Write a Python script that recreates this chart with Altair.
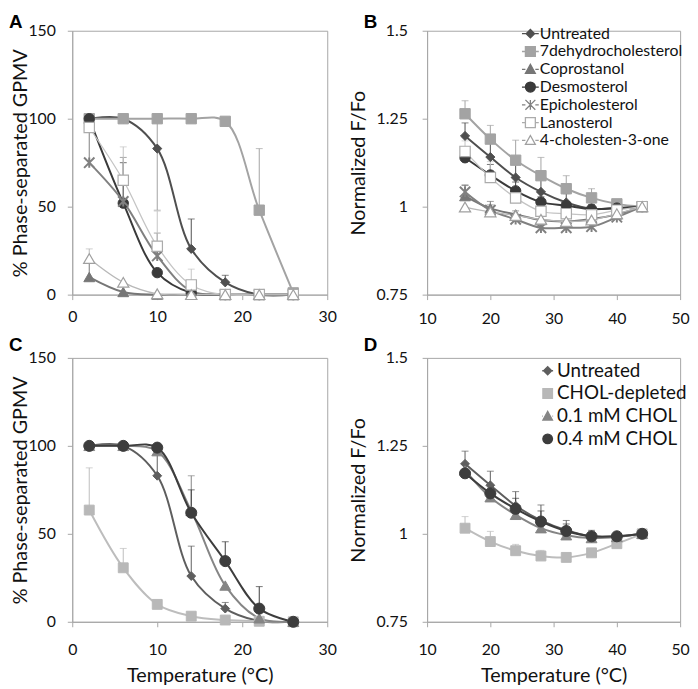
import altair as alt
import pandas as pd

# ---------------- data ----------------
TEMPS_AC = [2, 6, 10, 14, 18, 22, 26]
TEMPS_BD = [16, 20, 24, 28, 32, 36, 40, 44]

A_VALUES = {
    "Untreated": [100, 100, 83, 26, 7, 0, 0],
    "7dehydrocholesterol": [100, 100, 100, 100, 98.5, 48, 1],
    "Coprostanol": [10, 1.5, 0, 0, 0, 0, 0],
    "Desmosterol": [100, 52, 12.5, 1, 0, 0, 0],
    "Epicholesterol": [75, 53, 22, 2, 0, 0, 0],
    "Lanosterol": [95, 65, 27.5, 5.5, 0, 0, 0],
    "4-cholesten-3-one": [20.5, 7, 0.5, 0, 0, 0, 0],
}
A_ERR_PLUS = {
    "Untreated": [0, 0, 0, 17, 4, 0, 0],
    "7dehydrocholesterol": [0, 0, 0, 0, 0, 35, 0],
    "Coprostanol": [8, 0, 0, 0, 0, 0, 0],
    "Desmosterol": [0, 23, 0, 0, 0, 0, 0],
    "Epicholesterol": [20, 25, 13, 0, 0, 0, 0],
    "Lanosterol": [0, 19, 20, 9, 0, 0, 0],
    "4-cholesten-3-one": [5.5, 0, 0, 0, 2, 2, 2],
}
A_ERR_MINUS = {
    "7dehydrocholesterol": [0, 0, 52, 0, 0, 0, 0],
}

B_VALUES = {
    "Untreated": [1.201, 1.141, 1.083, 1.042, 1.012, 0.994, 0.996, 1.0],
    "7dehydrocholesterol": [1.264, 1.192, 1.132, 1.088, 1.051, 1.025, 1.008, 1.0],
    "Coprostanol": [1.03, 0.995, 0.978, 0.962, 0.958, 0.965, 0.978, 1.0],
    "Desmosterol": [1.139, 1.09, 1.045, 1.013, 1.003, 0.993, 0.996, 1.0],
    "Epicholesterol": [1.042, 0.99, 0.964, 0.94, 0.94, 0.943, 0.97, 1.0],
    "Lanosterol": [1.157, 1.083, 1.025, 0.987, 0.98, 0.977, 0.99, 1.0],
    "4-cholesten-3-one": [0.999, 0.985, 0.975, 0.964, 0.958, 0.962, 0.98, 1.0],
}
B_ERR_PLUS = {
    "Untreated": [0.037, 0.04, 0.04, 0.04, 0.025, 0.012, 0, 0],
    "7dehydrocholesterol": [0.037, 0.039, 0.057, 0.052, 0.037, 0.026, 0, 0],
    "Coprostanol": [0.03, 0.02, 0.01, 0, 0, 0, 0, 0],
    "Desmosterol": [0.02, 0.03, 0.025, 0.015, 0.01, 0, 0, 0],
    "Epicholesterol": [0.02, 0.015, 0.01, 0.01, 0, 0, 0, 0],
    "Lanosterol": [0.03, 0.045, 0.02, 0.01, 0, 0, 0, 0],
    "4-cholesten-3-one": [0, 0, 0, 0, 0, 0, 0.005, 0.008],
}

C_VALUES = {
    "Untreated": [100, 100, 83, 26, 7.5, 0.5, 0],
    "CHOL-depleted": [63.5, 30.7, 9.9, 3.2, 1, 0.3, 0],
    "0.1 mM CHOL": [100, 100, 97, 63, 20.6, 2, 0],
    "0.4 mM CHOL": [100, 100, 99, 62, 34.5, 7.5, 0],
}
C_ERR_PLUS = {
    "Untreated": [0, 0, 14, 17, 3.5, 0, 0],
    "CHOL-depleted": [24, 11, 0, 0, 0, 0, 0],
    "0.1 mM CHOL": [0, 0, 0, 20, 0, 0, 0],
    "0.4 mM CHOL": [0, 0, 0, 13, 11, 12.5, 0],
}

D_VALUES = {
    "Untreated": [1.199, 1.138, 1.080, 1.038, 1.010, 0.993, 0.993, 1.0],
    "CHOL-depleted": [1.016, 0.978, 0.952, 0.937, 0.933, 0.946, 0.972, 1.0],
    "0.1 mM CHOL": [1.18, 1.104, 1.054, 1.016, 0.996, 0.988, 0.991, 1.0],
    "0.4 mM CHOL": [1.172, 1.115, 1.071, 1.035, 1.008, 0.993, 0.993, 1.0],
}
D_ERR_PLUS = {
    "Untreated": [0.036, 0.04, 0.04, 0.044, 0.028, 0.017, 0, 0],
    "CHOL-depleted": [0.033, 0.029, 0.018, 0.016, 0, 0, 0, 0],
    "0.1 mM CHOL": [0, 0, 0, 0.03, 0, 0, 0, 0],
    "0.4 mM CHOL": [0, 0, 0.03, 0.03, 0.02, 0.01, 0, 0],
}

PCT_TICKS = [0, 50, 100, 150]
FF_TICKS = [0.75, 1, 1.25, 1.5]
X_AC_TICKS = [0, 10, 20, 30]
X_BD_TICKS = [10, 20, 30, 40, 50]

ASTERISK = "M-1,-1L1,1M-1,1L1,-1M0,-1L0,1"

STYLE_AB = {
    "Untreated": dict(shape="diamond", fill="#4f4f4f", stroke="#4f4f4f", sw=1, size=85, line="#4f4f4f", lw=2, kind="diamond"),
    "7dehydrocholesterol": dict(shape="square", fill="#a3a3a3", stroke="#a3a3a3", sw=1, size=110, line="#a3a3a3", lw=2, kind="square"),
    "Coprostanol": dict(shape="triangle-up", fill="#767676", stroke="#767676", sw=1, size=120, line="#767676", lw=2, kind="triangle"),
    "Desmosterol": dict(shape="circle", fill="#3a3a3a", stroke="#3a3a3a", sw=1, size=110, line="#3a3a3a", lw=2, kind="circle"),
    "Epicholesterol": dict(shape=ASTERISK, fill="#808080", stroke="#808080", sw=2, size=110, line="#808080", lw=2, kind="asterisk"),
    "Lanosterol": dict(shape="square", fill="white", stroke="#ababab", sw=1.2, size=110, line="#c4c4c4", lw=1.3, kind="square"),
    "4-cholesten-3-one": dict(shape="triangle-up", fill="white", stroke="#a0a0a0", sw=1.2, size=130, line="#b8b8b8", lw=1.3, kind="triangle"),
}
STYLE_CD = {
    "Untreated": dict(shape="diamond", fill="#5e5e5e", stroke="#5e5e5e", sw=1, size=80, line="#5e5e5e", lw=2, kind="diamond"),
    "CHOL-depleted": dict(shape="square", fill="#b8b8b8", stroke="#b8b8b8", sw=1, size=100, line="#bdbdbd", lw=2, kind="square"),
    "0.1 mM CHOL": dict(shape="triangle-up", fill="#858585", stroke="#858585", sw=1, size=120, line="#858585", lw=2, kind="triangle"),
    "0.4 mM CHOL": dict(shape="circle", fill="#3d3d3d", stroke="#3d3d3d", sw=1, size=125, line="#3d3d3d", lw=2, kind="circle"),
}

FONT = "Lato"
TXT = "#111111"
GRAY = "#a6a6a6"


def legend_path(kind, m):
    stubs = f"M-1,0L{-m:.3f},0M{m:.3f},0L1,0"
    if kind == "diamond":
        mk = f"M{-m:.3f},0L0,{-m:.3f}L{m:.3f},0L0,{m:.3f}Z"
    elif kind == "square":
        mk = f"M{-m:.3f},{-m:.3f}L{m:.3f},{-m:.3f}L{m:.3f},{m:.3f}L{-m:.3f},{m:.3f}Z"
    elif kind == "triangle":
        mk = f"M0,{-m:.3f}L{m:.3f},{0.8*m:.3f}L{-m:.3f},{0.8*m:.3f}Z"
    elif kind == "circle":
        mk = f"M{-m:.3f},0A{m:.3f},{m:.3f},0,1,0,{m:.3f},0A{m:.3f},{m:.3f},0,1,0,{-m:.3f},0Z"
    else:
        mk = f"M{-m:.3f},{-m:.3f}L{m:.3f},{m:.3f}M{-m:.3f},{m:.3f}L{m:.3f},{-m:.3f}M0,{-m:.3f}L0,{m:.3f}"
    return stubs + mk


def make_long(temps, vals):
    rows = []
    for s, ys in vals.items():
        for t, y in zip(temps, ys):
            rows.append(dict(series=s, t=t, v=y))
    return pd.DataFrame(rows)


def make_err(temps, vals, plus, minus):
    rows = []
    n = len(temps)
    for s in vals:
        p_list = plus.get(s, [0] * n)
        m_list = minus.get(s, [0] * n)
        for i, t in enumerate(temps):
            v = vals[s][i]
            if p_list[i] > 0:
                rows.append(dict(series=s, t=t, lo=v, hi=v + p_list[i], cap=v + p_list[i]))
            if m_list[i] > 0:
                rows.append(dict(series=s, t=t, lo=v - m_list[i], hi=v, cap=v - m_list[i]))
    return pd.DataFrame(rows)


def panel(letter, letter_y, temps, vals, plus, minus, styles, xdom, xticks, xlabpad, ydom, yticks,
          yfmt, ytitle, ytitle_x, ylabpad, xtitle, width, legend_opts, interp):
    series = list(vals.keys())
    df = make_long(temps, vals)
    err = make_err(temps, vals, plus, minus)
    err_series = set(err["series"]) if len(err) else set()

    xaxis_kw = dict(values=xticks, labelFlush=False, labelPadding=xlabpad, titlePadding=8)
    xaxis = alt.Axis(title=xtitle, **xaxis_kw) if xtitle else alt.Axis(title=None, **xaxis_kw)
    yaxis_kw = dict(values=yticks, title=ytitle, titleX=ytitle_x, labelPadding=ylabpad)
    if yfmt:
        yaxis_kw["format"] = yfmt
    yaxis = alt.Axis(**yaxis_kw)
    xs = alt.Scale(domain=xdom, nice=False, zero=False)
    ys = alt.Scale(domain=ydom, nice=False, zero=False)

    def X():
        return alt.X("t:Q", scale=xs, axis=xaxis)

    def Y(f):
        return alt.Y(f"{f}:Q", scale=ys, axis=yaxis)

    lines, errs, pts = [], [], []
    for s in series:
        st = styles[s]
        sel = alt.datum.series == s
        lines.append(
            alt.Chart(df).transform_filter(sel).mark_line(
                interpolate=interp, color=st["line"], strokeWidth=st["lw"]
            ).encode(x=X(), y=Y("v"))
        )
        if s in err_series:
            errs.append(
                alt.Chart(err).transform_filter(sel).mark_rule(color=st["line"], strokeWidth=1).encode(
                    x=X(), y=Y("lo"), y2="hi:Q")
            )
            errs.append(
                alt.Chart(err).transform_filter(sel).mark_tick(
                    orient="horizontal", size=7, thickness=1, color=st["line"]
                ).encode(x=X(), y=Y("cap"))
            )
        pts.append(
            alt.Chart(df).transform_filter(sel).mark_point(
                shape=st["shape"], filled=True, fill=st["fill"], stroke=st["stroke"],
                strokeWidth=st["sw"], size=st["size"], opacity=1
            ).encode(x=X(), y=Y("v"))
        )
    layers = lines + errs + pts
    if legend_opts:
        m_other = legend_opts["m"]
        m_diamond = legend_opts["md"]
        paths = [legend_path(styles[s]["kind"], m_diamond if styles[s]["kind"] == "diamond" else m_other) for s in series]
        leg = alt.Legend(
            orient="none", legendX=legend_opts["x"], legendY=legend_opts["y"], title=None,
            labelFont=FONT, labelFontSize=legend_opts["fs"], labelColor=TXT, labelLimit=400,
            symbolSize=legend_opts["size"], symbolStrokeWidth=1.3, rowPadding=legend_opts["rp"],
            labelOffset=legend_opts["lo"], padding=0,
        )
        layers.append(
            alt.Chart(df).transform_filter("false").mark_point(filled=True, opacity=1, strokeWidth=1.3).encode(
                x=X(), y=Y("v"),
                shape=alt.Shape("series:N", scale=alt.Scale(domain=series, range=paths), legend=leg),
                fill=alt.Fill("series:N", scale=alt.Scale(domain=series, range=[styles[s]["fill"] for s in series]), legend=leg),
                stroke=alt.Stroke("series:N", scale=alt.Scale(domain=series, range=[styles[s]["stroke"] for s in series]), legend=leg),
            )
        )
    layers.append(
        alt.Chart(pd.DataFrame({"label": [letter]})).mark_text(
            align="left", baseline="alphabetic", font="Liberation Sans", fontSize=19, fontWeight="bold", color="#000000"
        ).encode(text="label:N", x=alt.value(-64), y=alt.value(letter_y))
    )
    return alt.layer(*layers).properties(width=width, height=267)


pA = panel("A", -3, TEMPS_AC, A_VALUES, A_ERR_PLUS, A_ERR_MINUS, STYLE_AB, [0, 30], X_AC_TICKS, 9,
           [0, 150], PCT_TICKS, None, "% Phase-separated GPMV", -42, 12, None, 258, None, "catmull-rom")
pB = panel("B", -3, TEMPS_BD, B_VALUES, B_ERR_PLUS, {}, STYLE_AB, [10, 50], X_BD_TICKS, 11,
           [0.75, 1.5], FF_TICKS, ".3~g", "Normalized F/Fo", -59, 15, None, 256,
           dict(x=95, y=-6.5, fs=16, size=289, rp=-1.6, lo=0, m=0.59, md=0.5), "catmull-rom")
pC = panel("C", -7, TEMPS_AC, C_VALUES, C_ERR_PLUS, {}, STYLE_CD, [0, 30], X_AC_TICKS, 15,
           [0, 150], PCT_TICKS, None, "% Phase-separated GPMV", -42, 12, "Temperature (°C)", 258, None, "catmull-rom")
pD = panel("D", -7, TEMPS_BD, D_VALUES, D_ERR_PLUS, {}, STYLE_CD, [10, 50], X_BD_TICKS, 15,
           [0.75, 1.5], FF_TICKS, ".3~g", "Normalized F/Fo", -59, 15, "Temperature (°C)", 256,
           dict(x=112.5, y=3.5, fs=19, size=121, rp=3, lo=0, m=0.88, md=0.75), "catmull-rom")

chart = alt.concat(
    pA, pB, pC, pD, columns=2, spacing=alt.RowColnumber(row=64, column=101), bounds="flush"
).resolve_scale(
    fill="independent", stroke="independent", shape="independent"
).properties(padding=0).configure_view(
    stroke=GRAY, strokeWidth=1
).configure_axis(
    grid=False, domainColor=GRAY, tickColor=GRAY, tickSize=5,
    labelFont=FONT, labelFontSize=16, labelColor=TXT,
    titleFont=FONT, titleFontSize=20, titleFontWeight="normal", titleColor=TXT,
)

chart.save("out.html", embed_options={"renderer": "svg", "actions": False})
